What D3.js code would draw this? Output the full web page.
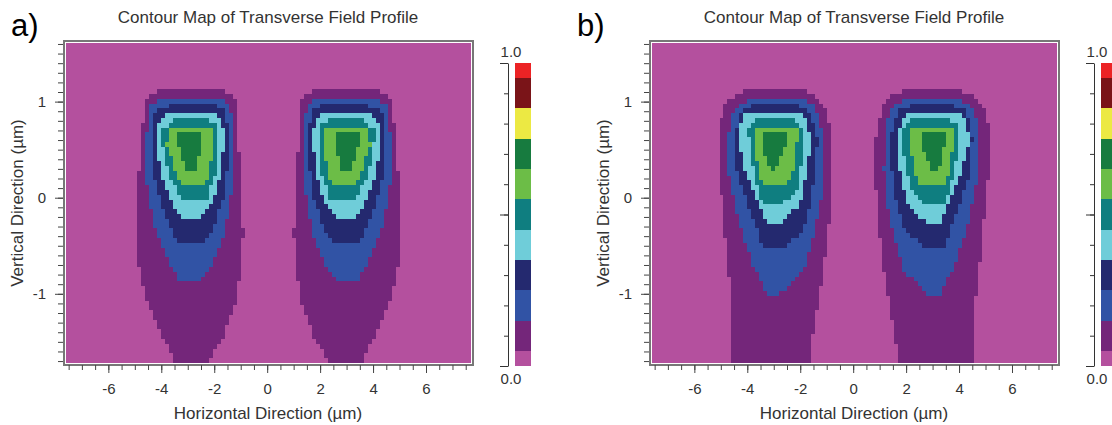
<!DOCTYPE html>
<html>
<head>
<meta charset="utf-8">
<script src="https://cdn.jsdelivr.net/npm/d3@7"></script>
<style>
body { margin: 0; background: #fff; }
text { font-family: "Liberation Sans", Arial, sans-serif; fill: #333; }
</style>
</head>
<body>
<script>

// colour levels 0.0 .. 1.0 (step 0.1)
const levelColors = ["#b4509e", "#74267a", "#3153a5", "#24296f", "#6fcdd9", "#0f7e80",
                     "#6cbd47", "#177b3f", "#ece943", "#7a1418", "#ec2325"];
const colorbarBounds = [0, 0.05, 0.15, 0.25, 0.35, 0.45, 0.55, 0.65, 0.75, 0.85, 0.95, 1.0];
const colorbarTicks = [0, 0.1, 0.2, 0.3, 0.4, 0.5, 0.6, 0.7, 0.8, 0.9, 1.0];
const colorbarMajor = [0, 0.5, 1.0];

const xMajorTicks = [-6, -4, -2, 0, 2, 4, 6];
const xMinorTicks = [-7.5, -7, -6.5, -6, -5.5, -5, -4.5, -4, -3.5, -3, -2.5, -2, -1.5, -1, -0.5, 0,
                     0.5, 1, 1.5, 2, 2.5, 3, 3.5, 4, 4.5, 5, 5.5, 6, 6.5, 7, 7.5];
const yMajorTicks = [-1, 0, 1];
const yMinorTicks = [-1.7, -1.6, -1.5, -1.4, -1.3, -1.2, -1.1, -1, -0.9, -0.8, -0.7, -0.6, -0.5, -0.4,
                     -0.3, -0.2, -0.1, 0, 0.1, 0.2, 0.3, 0.4, 0.5, 0.6, 0.7, 0.8, 0.9, 1, 1.1, 1.2,
                     1.3, 1.4, 1.5, 1.6];

const panelLabels = ["a)", "b)"];
const chartTitle = "Contour Map of Transverse Field Profile";
const xTitle = "Horizontal Direction (\u00b5m)";
const yTitle = "Vertical Direction (\u00b5m)";

// lobe centres (um) and x flip of the outline
const lobeCentersA = [-2.92, 3.02];
const lobeCentersB = [-2.94, 2.98];
const lobeFlip = [1, -1];

// outlines per level (0.1 .. 0.7), rows of [y, left, right] in um, relative to lobe centre
const lobeA = [
  [[1.14, -0.94, 0.94], [1.09, -1.40, 1.45], [1.03, -1.70, 1.75], [0.60, -1.79, 1.81],
   [0.10, -1.98, 1.96], [-0.40, -2.00, 2.00], [-0.76, -1.89, 1.94], [-1.10, -1.58, 1.70],
   [-1.45, -1.06, 1.25], [-1.62, -0.68, 0.87], [-1.80, -0.57, 0.64]],
  [[1.03, -1.02, 1.10], [0.97, -1.45, 1.50], [0.80, -1.58, 1.60], [0.30, -1.68, 1.62],
   [-0.06, -1.51, 1.51], [-0.41, -1.21, 1.25], [-0.68, -0.75, 0.83], [-0.88, -0.38, 0.38]],
  [[0.98, -0.50, 0.68], [0.94, -1.02, 1.15], [0.87, -1.30, 1.38], [0.56, -1.42, 1.43],
   [0.28, -1.40, 1.40], [-0.06, -1.06, 1.21], [-0.34, -0.68, 0.83], [-0.47, -0.42, 0.42]],
  [[0.88, -0.83, 1.00], [0.83, -1.10, 1.15], [0.70, -1.25, 1.28], [0.28, -1.13, 1.22],
   [-0.06, -0.64, 0.83], [-0.22, -0.30, 0.38]],
  [[0.83, -0.45, 0.70], [0.72, -1.02, 1.06], [0.50, -1.00, 1.06], [0.28, -0.83, 1.02],
   [0.00, -0.38, 0.64], [-0.03, -0.26, 0.49]],
  [[0.75, -0.75, 0.90], [0.56, -0.87, 0.90], [0.28, -0.57, 0.75], [0.15, -0.30, 0.57]],
  [[0.68, -0.49, 0.49], [0.52, -0.40, 0.40], [0.29, -0.19, 0.26]]
];

const lobeB = [
  [[1.14, -0.83, 0.87], [1.08, -1.43, 1.40], [1.03, -1.70, 1.62], [0.97, -1.89, 1.81],
   [0.80, -2.08, 2.00], [0.62, -2.15, 2.13], [0.28, -2.15, 2.15], [-0.06, -2.00, 2.08],
   [-0.41, -1.89, 1.96], [-0.76, -1.77, 1.81], [-1.10, -1.62, 1.62], [-1.45, -1.62, 1.40],
   [-1.80, -1.58, 1.21]],
  [[1.03, -0.83, 0.94], [0.97, -1.40, 1.40], [0.87, -1.62, 1.62], [0.62, -1.77, 1.77],
   [0.28, -1.77, 1.81], [-0.06, -1.51, 1.70], [-0.41, -1.21, 1.43], [-0.76, -0.75, 1.06],
   [-1.02, -0.25, 0.10]],
  [[0.98, -0.45, 0.49], [0.93, -1.25, 1.21], [0.62, -1.51, 1.58], [0.28, -1.43, 1.51],
   [-0.06, -1.06, 1.32], [-0.34, -0.68, 1.06], [-0.52, -0.45, 0.26]],
  [[0.88, -1.06, 0.94], [0.83, -1.25, 1.13], [0.62, -1.40, 1.32], [0.28, -1.13, 1.21],
   [-0.06, -0.64, 0.94], [-0.27, -0.26, 0.19]],
  [[0.83, -0.64, 0.68], [0.73, -1.02, 1.06], [0.46, -0.94, 1.06], [0.10, -0.68, 0.83],
   [-0.06, -0.45, 0.30]],
  [[0.75, -0.83, 0.83], [0.62, -0.83, 0.83], [0.28, -0.64, 0.68], [0.15, -0.49, 0.45]],
  [[0.68, -0.49, 0.45], [0.52, -0.45, 0.38], [0.35, -0.30, 0.11], [0.29, -0.20, 0.05]]
];

const panels = [
  { label: panelLabels[0], lobe: lobeA, centers: lobeCentersA, dx: 0 },
  { label: panelLabels[1], lobe: lobeB, centers: lobeCentersB, dx: 586 }
];

const svg = d3.select("body").append("svg")
  .attr("width", 1112)
  .attr("height", 425);

// plot area
const xDomain = [-7.6, 7.7], yDomain = [-1.72, 1.61];
const x = d3.scaleLinear().domain(xDomain).range([66, 471]);
const y = d3.scaleLinear().domain(yDomain).range([363, 43]);
const cb = d3.scaleLinear().domain([0, 1]).range([366, 63]);

// grid cell size of the map (um)
const cellW = 0.15, cellH = 0.05;

const plainNum = d => String(d);

function outline(rows, xc, flip) {
  const left = rows.map(r => [xc + flip * r[1], r[0]]);
  const right = rows.map(r => [xc + flip * r[2], r[0]]).reverse();
  return left.concat(right);
}

panels.forEach(p => {
  const g = svg.append("g").attr("transform", "translate(" + p.dx + ",0)");

  // polygons per level
  const polys = p.lobe.map(rows => p.centers.map((c, i) => outline(rows, c, lobeFlip[i])));

  // background
  g.append("rect")
    .attr("x", x(xDomain[0])).attr("y", y(yDomain[1]))
    .attr("width", x(xDomain[1]) - x(xDomain[0]))
    .attr("height", y(yDomain[0]) - y(yDomain[1]))
    .attr("fill", levelColors[0]);

  const nx = Math.ceil((xDomain[1] - xDomain[0]) / cellW);
  const ny = Math.ceil((yDomain[1] - yDomain[0]) / cellH);
  const runs = [];
  for (let j = 0; j < ny; j++) {
    const y0 = yDomain[0] + j * cellH, y1 = Math.min(y0 + cellH, yDomain[1]);
    const yc = (y0 + y1) / 2;
    let cur = null;
    for (let i = 0; i < nx; i++) {
      const x0 = xDomain[0] + i * cellW, x1 = Math.min(x0 + cellW, xDomain[1]);
      const xc = (x0 + x1) / 2;
      let lev = 0;
      for (let l = polys.length; l >= 1; l--) {
        if (polys[l - 1].some(poly => d3.polygonContains(poly, [xc, yc]))) { lev = l; break; }
      }
      if (cur && cur.lev === lev) { cur.x1 = x1; }
      else {
        if (cur && cur.lev > 0) runs.push(cur);
        cur = { lev: lev, x0: x0, x1: x1, y0: y0, y1: y1 };
      }
    }
    if (cur && cur.lev > 0) runs.push(cur);
  }

  g.append("g")
    .selectAll("rect")
    .data(runs)
    .enter().append("rect")
    .attr("x", d => x(d.x0))
    .attr("y", d => y(d.y1))
    .attr("width", d => x(d.x1) - x(d.x0))
    .attr("height", d => y(d.y0) - y(d.y1))
    .attr("fill", d => levelColors[d.lev])
    .attr("shape-rendering", "crispEdges");

  // frame
  g.append("rect")
    .attr("x", 65.5).attr("y", 42.5).attr("width", 406).attr("height", 321)
    .attr("fill", "none").attr("stroke", "#fff").attr("stroke-width", 1);
  g.append("rect")
    .attr("x", 64).attr("y", 41).attr("width", 409).attr("height", 324)
    .attr("fill", "none").attr("stroke", "#777").attr("stroke-width", 2);

  // x axis
  const xa = g.append("g").attr("transform", "translate(0,365)");
  xa.call(d3.axisBottom(x).tickValues(xMinorTicks).tickSize(5).tickFormat(""));
  xa.append("g").call(d3.axisBottom(x).tickValues(xMajorTicks).tickSize(8).tickPadding(10)
    .tickFormat(plainNum));
  // y axis
  const ya = g.append("g").attr("transform", "translate(63,0)");
  ya.call(d3.axisLeft(y).tickValues(yMinorTicks).tickSize(5).tickFormat(""));
  ya.append("g").call(d3.axisLeft(y).tickValues(yMajorTicks).tickSize(8).tickPadding(9)
    .tickFormat(plainNum));

  g.selectAll(".domain").remove();
  g.selectAll(".tick line").attr("stroke", "#444");
  g.selectAll(".tick text").attr("font-size", 15).attr("fill", "#333")
    .attr("font-family", "Liberation Sans, Arial, sans-serif");

  // colour bar
  const bands = levelColors.map((c, i) => ({ c: c, lo: colorbarBounds[i], hi: colorbarBounds[i + 1] }));
  g.append("g").selectAll("rect")
    .data(bands)
    .enter().append("rect")
    .attr("x", 515).attr("width", 16)
    .attr("y", d => cb(d.hi))
    .attr("height", d => cb(d.lo) - cb(d.hi))
    .attr("fill", d => d.c)
    .attr("shape-rendering", "crispEdges");

  const ca = g.append("g").attr("transform", "translate(508,0)");
  ca.call(d3.axisLeft(cb).tickValues(colorbarTicks).tickSize(4).tickSizeOuter(0).tickFormat(""));
  ca.append("g").call(d3.axisLeft(cb).tickValues(colorbarMajor).tickSize(8).tickFormat(""))
    .select(".domain").remove();
  ca.selectAll("path, line").attr("stroke", "#333");

  g.append("text").attr("x", 511).attr("y", cb(1) - 6)
    .attr("text-anchor", "middle").attr("font-size", 15).text("1.0");
  g.append("text").attr("x", 511).attr("y", cb(0) + 18)
    .attr("text-anchor", "middle").attr("font-size", 15).text("0.0");

  // titles
  g.append("text").attr("x", 268).attr("y", 23)
    .attr("text-anchor", "middle").attr("font-size", 17).text(chartTitle);
  g.append("text").attr("x", 268).attr("y", 419)
    .attr("text-anchor", "middle").attr("font-size", 17).text(xTitle);
  g.append("text").attr("transform", "translate(23,203) rotate(-90)")
    .attr("text-anchor", "middle").attr("font-size", 17).text(yTitle);

  g.append("text").attr("x", p.dx === 0 ? 11 : -9).attr("y", 36)
    .attr("font-size", 31).style("fill", "#000").text(p.label);
});

</script>
</body>
</html>
